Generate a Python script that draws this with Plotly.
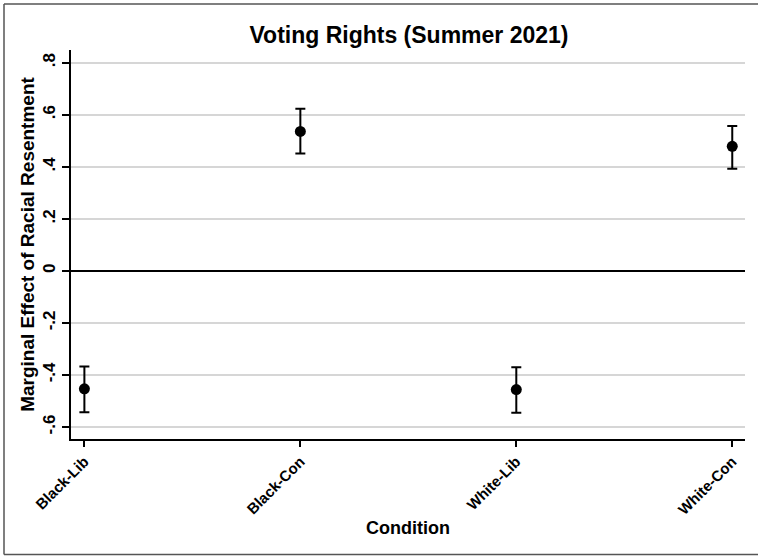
import plotly.graph_objects as go

conditions = ["Black-Lib", "Black-Con", "White-Lib", "White-Con"]
estimates = [-0.453, 0.536, -0.456, 0.479]
ci_upper = [-0.367, 0.623, -0.370, 0.557]
ci_lower = [-0.543, 0.451, -0.545, 0.393]
y_tickvals = [-0.6, -0.4, -0.2, 0, 0.2, 0.4, 0.6, 0.8]
y_ticktext = ["-.6", "-.4", "-.2", "0", ".2", ".4", ".6", ".8"]

W, H = 758, 556
ml, mr, mt, mb = 71, 13, 50, 117
pw, ph = W - ml - mr, H - mt - mb

err_plus = [u - e for u, e in zip(ci_upper, estimates)]
err_minus = [e - l for e, l in zip(estimates, ci_lower)]

FONT = "Liberation Sans, Arial, Helvetica, sans-serif"

fig = go.Figure()
fig.add_trace(go.Scatter(
    x=list(range(len(conditions))),
    y=estimates,
    mode="markers",
    marker=dict(color="black", size=11),
    error_y=dict(type="data", array=err_plus, arrayminus=err_minus,
                 color="black", thickness=2, width=5),
    showlegend=False,
    cliponaxis=False,
))

def px_to_paper_x(px):
    return (px - ml) / pw

def px_to_paper_y(py):
    return 1 - (py - mt) / ph

border = dict(color="#555555", width=1.5)
fig.add_shape(type="line", xref="paper", yref="paper",
              x0=px_to_paper_x(4), x1=px_to_paper_x(W + 5),
              y0=px_to_paper_y(4), y1=px_to_paper_y(4), line=border)
fig.add_shape(type="line", xref="paper", yref="paper",
              x0=px_to_paper_x(4), x1=px_to_paper_x(W + 5),
              y0=px_to_paper_y(554.5), y1=px_to_paper_y(554.5), line=border)
fig.add_shape(type="line", xref="paper", yref="paper",
              x0=px_to_paper_x(4), x1=px_to_paper_x(4),
              y0=px_to_paper_y(4), y1=px_to_paper_y(554.5), line=border)

fig.update_layout(
    width=W, height=H,
    margin=dict(l=ml, r=mr, t=mt, b=mb),
    paper_bgcolor="white", plot_bgcolor="white",
    font=dict(family=FONT, color="black", weight="bold"),
    title=dict(text="Voting Rights (Summer 2021)", x=409 / W,
               xanchor="center", y=1 - 35 / H, yanchor="middle",
               font=dict(size=23, family=FONT, color="black", weight="bold")),
    xaxis=dict(
        range=[-0.062, 3.059],
        tickmode="array", tickvals=list(range(len(conditions))), ticktext=conditions,
        tickangle=-45, tickfont=dict(size=15, weight="bold"),
        showline=True, linecolor="black", linewidth=2, mirror=False,
        ticks="outside", ticklen=6, tickwidth=2, tickcolor="black",
        showgrid=False, zeroline=False,
        title=dict(text="Condition", font=dict(size=18, weight="bold"), standoff=4),
    ),
    yaxis=dict(
        range=[-0.646, 0.849],
        tickmode="array", tickvals=y_tickvals, ticktext=y_ticktext,
        tickangle=-90, tickfont=dict(size=17, weight="bold"),
        showline=True, linecolor="black", linewidth=2,
        ticks="outside", ticklen=7, tickwidth=2, tickcolor="black",
        showgrid=True, gridcolor="#d6d6d6", gridwidth=1.5,
        zeroline=True, zerolinecolor="black", zerolinewidth=2,
        title=dict(text="Marginal Effect of Racial Resentment", font=dict(size=19, weight="bold"), standoff=1),
    ),
)

fig.write_html("out.html")
